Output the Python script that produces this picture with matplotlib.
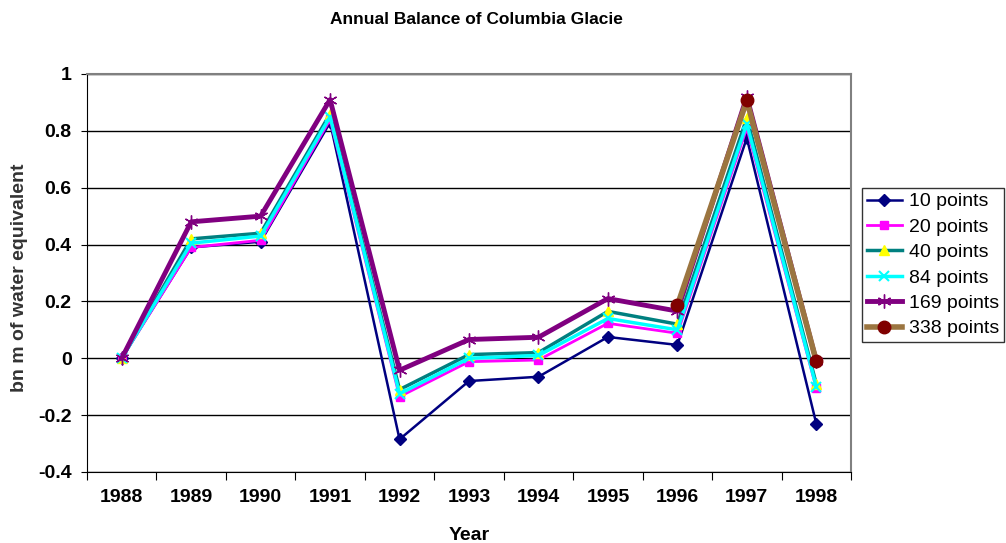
import numpy as np
import matplotlib.pyplot as plt

years = ['1988', '1989', '1990', '1991', '1992', '1993', '1994', '1995', '1996', '1997', '1998']

pts10 = [0.0, 0.39, 0.41, 0.83, -0.285, -0.08, -0.065, 0.075, 0.047, 0.775, -0.23]
pts20 = [0.0, 0.39, 0.415, 0.84, -0.135, -0.012, -0.006, 0.123, 0.088, 0.81, -0.105]
pts40 = [0.0, 0.42, 0.44, 0.86, -0.11, 0.013, 0.02, 0.165, 0.12, 0.845, -0.09]
pts84 = [0.0, 0.405, 0.43, 0.85, -0.125, 0.0, 0.01, 0.14, 0.10, 0.825, -0.10]
pts169 = [0.0, 0.48, 0.50, 0.91, -0.042, 0.066, 0.074, 0.21, 0.166, 0.92, -0.01]
pts338_years = ['1996', '1997', '1998']
pts338 = [0.186, 0.907, -0.01]

yticks = [-0.4, -0.2, 0, 0.2, 0.4, 0.6, 0.8, 1]

plt.rcParams['font.family'] = ['Liberation Sans', 'DejaVu Sans']

fig = plt.figure(figsize=(10.06, 5.43), dpi=100)
ax = fig.add_axes([87 / 1006, 1 - 472 / 543, 764 / 1006, 398 / 543])

x = np.arange(len(years))
x338 = [years.index(y) for y in pts338_years]

ax.plot(x, pts10, color='#000080', lw=1.8, marker='D', ms=6, mfc='#000080', mec='#000080', label='10 points', zorder=3)
ax.plot(x, pts20, color='#FF00FF', lw=2.0, marker='s', ms=6, mfc='#FF00FF', mec='#FF00FF', label='20 points', zorder=3)
ax.plot(x, pts40, color='#008080', lw=2.5, marker='^', ms=7, mfc='#FFFF00', mec='#FFFF00', label='40 points', zorder=3)
ax.plot(x, pts84, color='#00FFFF', lw=2.5, marker='x', ms=7, mew=1.5, mec='#00FFFF', label='84 points', zorder=3)
ax.plot(x, pts169, color='#800080', lw=3.5, marker=(6, 2, 0), ms=10, mew=1.0, mec='#800080', label='169 points', zorder=3)
ax.plot(x338, pts338, color='#9B7540', lw=4, marker='o', ms=9, mfc='#800000', mec='#800000', label='338 points', zorder=3)

ax.set_xlim(-0.5, len(years) - 0.5)
ax.set_ylim(-0.4, 1)

ax.set_xticks(np.arange(-0.5, len(years)), labels=[])
ax.set_xticks(x, labels=years, minor=True)
ax.tick_params(axis='x', which='major', length=6, direction='out', color='black')
ax.tick_params(axis='x', which='minor', length=0, pad=12)
for lbl in ax.get_xticklabels(minor=True):
    lbl.set_fontweight('bold')
    lbl.set_fontsize(14)

ax.set_yticks(yticks, labels=['%g' % v for v in yticks])
ax.tick_params(axis='y', length=4, direction='out', pad=7)
for lbl in ax.get_yticklabels():
    lbl.set_fontweight('bold')
    lbl.set_fontsize(14)

ax.yaxis.grid(True, color='black', lw=1.0)
ax.set_axisbelow(True)
for side in ['top', 'right']:
    ax.spines[side].set_color('#808080')
    ax.spines[side].set_linewidth(1.5)
ax.spines['left'].set_color('black')
ax.spines['bottom'].set_color('black')

fig.text(469 / 1006, 1 - 535 / 543, 'Year', ha='center', va='center', fontsize=14, fontweight='bold')
fig.text(20 / 1006, 1 - 278 / 543, 'bn m of water equivalent', ha='center', va='center', rotation=90,
         fontsize=14, fontweight='bold', color='#333333')
fig.text(476 / 1006, 1 - 20 / 543, 'Annual Balance of Columbia Glacie', ha='center', va='center',
         fontsize=12.5, fontweight='bold')

leg = fig.legend(loc='upper left', bbox_to_anchor=(862 / 1006, 1 - 188 / 543), frameon=True, fancybox=False,
                 edgecolor='black', fontsize=14, handlelength=1.8, handletextpad=0.35,
                 borderpad=0.25, labelspacing=0.4, borderaxespad=0)
leg.get_frame().set_linewidth(1.0)

fig.savefig('out.png', dpi=100)
